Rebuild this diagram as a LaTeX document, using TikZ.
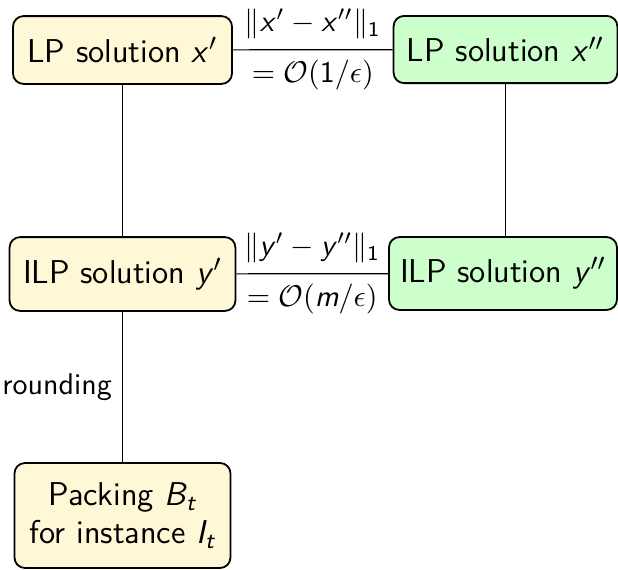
\documentclass[tikz,border=0pt]{standalone}
\usepackage{amsmath}
\newcommand\sv[1]{\text{\sffamily\itshape #1}}
\newcommand\sn[1]{\text{\sffamily #1}}
\newcommand\pg{\mkern1.5mu}
\definecolor{boxyellow}{RGB}{255,248,214}
\definecolor{boxgreen}{RGB}{204,255,204}
\begin{document}
\begin{tikzpicture}[x=0.33333pt, y=-0.33333pt, font=\sffamily,
  box/.style={draw, line width=0.6pt, rounded corners=3.5pt, align=center, inner sep=0pt,
    font=\sffamily\fontsize{11}{12.7}\selectfont},
  ybox/.style={box, fill=boxyellow},
  gbox/.style={box, fill=boxgreen},
  conn/.style={line width=0.4pt}]
\useasboundingbox (0,0) rectangle (618,569);
\node[ybox, minimum width=73pt, minimum height=22.6pt] (lpa) at (122.5,50) {LP solution $\sv{x}\pg'$};
\node[gbox, minimum width=74.6pt, minimum height=22.4pt] (lpb) at (505.5,49.5) {LP solution $\sv{x}\pg''$};
\node[ybox, minimum width=75.3pt, minimum height=24.6pt] (ilpa) at (122.5,274) {ILP solution $\sv{y}\pg'$};
\node[gbox, minimum width=76pt, minimum height=24.3pt] (ilpb) at (503,273.5) {ILP solution $\sv{y}\pg''$};
\node[ybox, minimum width=72pt, minimum height=35pt] (pack) at (122.5,515.5) {Packing $\sv{B}_{\sv{t}}$\\for instance $\sv{I}_{\sv{t}}$};
\draw[conn] (lpa) -- node[above]{$\|\sv{x}\pg'-\sv{x}\pg''\|_{\sn{1}}$} node[below]{$=\mathcal{O}(\sn{1}/\epsilon)$} (lpb);
\draw[conn] (ilpa) -- node[above]{$\|\sv{y}\pg'-\sv{y}\pg''\|_{\sn{1}}$} node[below]{$=\mathcal{O}(\sv{m}/\epsilon)$} (ilpb);
\draw[conn] (lpa) -- (ilpa);
\draw[conn] (lpb) -- (lpb |- ilpb.north);
\draw[conn] (ilpa) -- node[left]{rounding} (pack);
\end{tikzpicture}
\end{document}
